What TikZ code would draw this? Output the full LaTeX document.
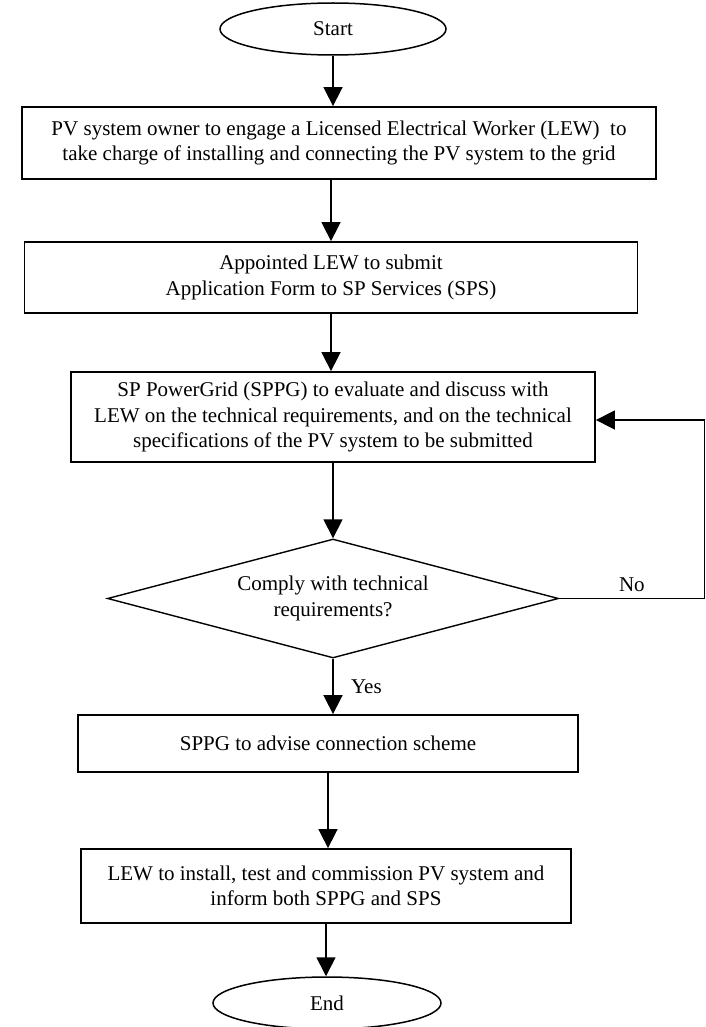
\documentclass[tikz,border=0pt]{standalone}
\usepackage{fontspec}
\setmainfont{Liberation Serif}
\usetikzlibrary{arrows.meta,shapes.geometric,positioning}

\begin{document}
\begin{tikzpicture}[x=1pt,y=1pt,
  every node/.style={font=\fontsize{21}{25.5}\selectfont},
  term/.style={draw,line width=1.5pt,ellipse,minimum width=226pt,minimum height=52pt,inner sep=0pt},
  stepbox/.style={draw,line width=1.8pt,rectangle,align=center,inner sep=0pt},
  decide/.style={draw,line width=1.4pt,diamond,aspect=3.79,minimum width=451pt,minimum height=119pt,inner sep=0pt,align=center},
  arr/.style={line width=1.6pt,-{Triangle[length=19pt,width=19pt]}}]
 \useasboundingbox (0,0) rectangle (706,-1027);
 % flow
 \node[term] (start) at (333,-29) {Start};
 \node[stepbox,minimum width=634pt,minimum height=72pt] (owner) at (339,-143)
   {PV system owner to engage a Licensed Electrical Worker (LEW)~ to\\ take charge of installing and connecting the PV system to the grid};
 \node[stepbox,minimum width=613pt,minimum height=71pt] (apply) at (331,-277.5)
   {Appointed LEW to submit\\ Application Form to SP Services (SPS)};
 \node[stepbox,minimum width=524pt,minimum height=90pt] (evaluate) at (333,-417)
   {SP PowerGrid (SPPG) to evaluate and discuss with\\ LEW on the technical requirements, and on the technical\\ specifications of the PV system to be submitted};
 \node[decide] (comply) at (333,-598.5) {Comply with technical\\ requirements?};
 \node[stepbox,minimum width=500pt,minimum height=57pt] (advise) at (328,-743.5)
   {SPPG to advise connection scheme};
 \node[stepbox,minimum width=490pt,minimum height=74pt] (install) at (326,-886)
   {LEW to install, test and commission PV system and\\ inform both SPPG and SPS};
 \node[term,minimum width=228pt] (end) at (327,-1003) {End};
 \coordinate (turn) at (704.5,-598.5);

 % arrows
 \draw[arr] (start.south) -- (start.south |- owner.north);
 \draw[arr] (owner.south -| apply.north) -- (apply.north);
 \draw[arr] (apply.south) -- (apply.south |- evaluate.north);
 \draw[arr] (evaluate.south -| comply.north) -- (comply.north);
 \draw[arr] (comply.south) -- node[right=14pt]{Yes} (comply.south |- advise.north);
 \draw[arr] (advise.south) -- (advise.south |- install.north);
 \draw[arr] (install.south) -- (install.south |- end.north);
 \draw[arr] (comply.east) -- node[above=3pt]{No} (turn) |- ([yshift=-3pt]evaluate.east);
\end{tikzpicture}
\end{document}
